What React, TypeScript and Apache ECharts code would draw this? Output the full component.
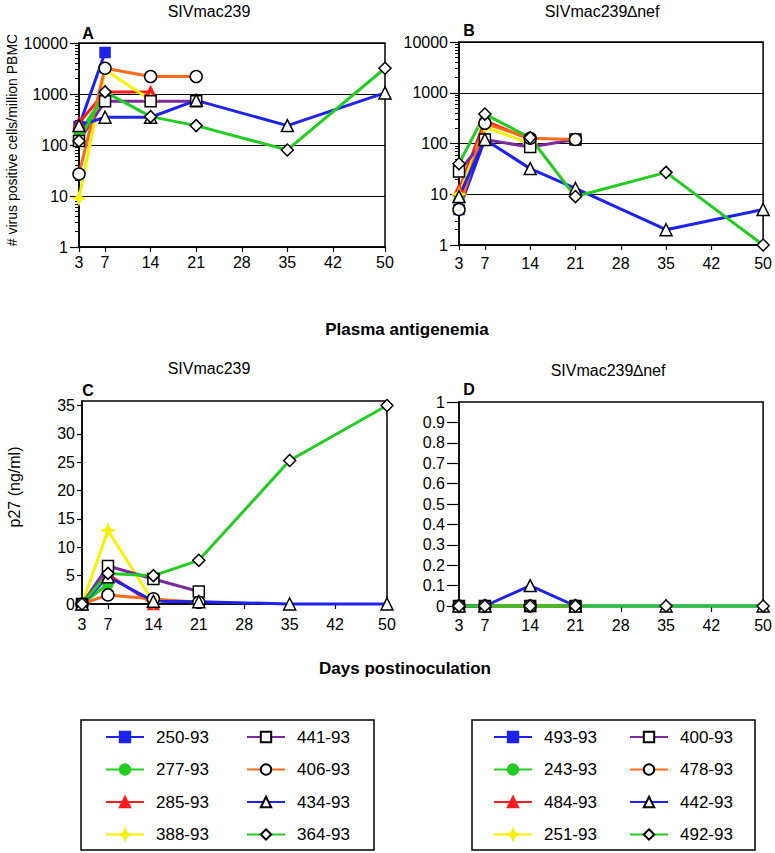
import React, { useEffect, useRef } from "react";
import * as echarts from "echarts";

// ---------- data ----------
const days = [3, 7, 14, 21, 35, 50];
const xTickDays = [3, 7, 14, 21, 28, 35, 42, 50];
const logMinorTicks = [
  2, 3, 4, 5, 6, 7, 8, 9, 20, 30, 40, 50, 60, 70, 80, 90, 200, 300, 400, 500, 600, 700, 800, 900,
  2000, 3000, 4000, 5000, 6000, 7000, 8000, 9000,
];
const p27TicksC = [0, 5, 10, 15, 20, 25, 30, 35];

const wtAnimals = ["250-93", "277-93", "285-93", "388-93", "441-93", "406-93", "434-93", "364-93"];
const nefAnimals = ["493-93", "243-93", "484-93", "251-93", "400-93", "478-93", "442-93", "492-93"];

// Panel A: virus positive cells / million PBMC, SIVmac239 (values per day in `days`)
const cellsWt250 = [230, 6500];
const cellsWt277 = [170, 1000];
const cellsWt285 = [270, 1100, 1100];
const cellsWt388 = [9, 3000, 760];
const cellsWt441 = [120, 720, 720, 720];
const cellsWt406 = [27, 3200, 2200, 2200];
const cellsWt434 = [240, 350, 350, 750, 240, 1050];
const cellsWt364 = [120, 1100, 360, 240, 80, 3200];

// Panel B: SIVmac239Δnef
const cellsNef493 = [5, 120];
const cellsNef243 = [8, 300];
const cellsNef484 = [12, 280, 120];
const cellsNef251 = [10, 210, 100];
const cellsNef400 = [28, 120, 85, 120];
const cellsNef478 = [5, 250, 127, 120];
const cellsNef442 = [9, 120, 32, 13, 2, 5];
const cellsNef492 = [40, 380, 130, 9, 27, 1];

// Panel C: p27 (ng/ml), SIVmac239
const p27Wt250 = [0, 5.5];
const p27Wt277 = [0, 3.5];
const p27Wt285 = [0, 5.2, 0];
const p27Wt388 = [0, 13, 0.3];
const p27Wt441 = [0, 6.7, 4.4, 2.2];
const p27Wt406 = [0, 1.6, 0.9, 0.3];
const p27Wt434 = [0, 4.8, 0.5, 0.4, 0, 0];
const p27Wt364 = [0, 5.4, 5.0, 7.7, 25.3, 35];

// Panel D: p27 (ng/ml), SIVmac239Δnef
const p27Nef493 = [0, 0, 0, 0];
const p27Nef243 = [0, 0, 0, 0];
const p27Nef484 = [0, 0, 0, 0];
const p27Nef251 = [0, 0, 0, 0];
const p27Nef400 = [0, 0, 0, 0];
const p27Nef478 = [0, 0, 0, 0];
const p27Nef442 = [0, 0, 0.1, 0, 0, 0];
const p27Nef492 = [0, 0, 0, 0, 0, 0];

const panelA = [cellsWt250, cellsWt277, cellsWt285, cellsWt388, cellsWt441, cellsWt406, cellsWt434, cellsWt364];
const panelB = [cellsNef493, cellsNef243, cellsNef484, cellsNef251, cellsNef400, cellsNef478, cellsNef442, cellsNef492];
const panelC = [p27Wt250, p27Wt277, p27Wt285, p27Wt388, p27Wt441, p27Wt406, p27Wt434, p27Wt364];
const panelD = [p27Nef493, p27Nef243, p27Nef484, p27Nef251, p27Nef400, p27Nef478, p27Nef442, p27Nef492];

// ---------- styles ----------
const FONT = "'Liberation Sans', Arial, Helvetica, sans-serif";
const BLUE = "#1e22ee";
const GREEN = "#22cc22";
const RED = "#ff1c1c";
const YELLOW = "#f7f000";
const PURPLE = "#7a2a9c";
const ORANGE = "#ff6a18";
const STAR = "path://M0,-10L2.8,-2.8L10,0L2.8,2.8L0,10L-2.8,2.8L-10,0L-2.8,-2.8Z";

const looks = [
  { line: BLUE, symbol: "rect", fill: BLUE, border: BLUE, size: 10 },
  { line: GREEN, symbol: "circle", fill: GREEN, border: GREEN, size: 10 },
  { line: RED, symbol: "triangle", fill: RED, border: RED, size: 11 },
  { line: YELLOW, symbol: STAR, fill: YELLOW, border: YELLOW, size: 12 },
  { line: PURPLE, symbol: "rect", fill: "#fff", border: "#000", size: 11 },
  { line: ORANGE, symbol: "circle", fill: "#fff", border: "#000", size: 12 },
  { line: BLUE, symbol: "triangle", fill: "#fff", border: "#000", size: 12 },
  { line: GREEN, symbol: "diamond", fill: "#fff", border: "#000", size: 12 },
];

const txt = (text: string, x: number, y: number, size: number, weight = "normal", rotation = 0) => ({
  type: "text",
  x,
  y,
  rotation,
  silent: true,
  style: {
    text,
    fill: "#000",
    font: `${weight} ${size}px ${FONT}`,
    align: "center",
    verticalAlign: "middle",
    textAlign: "center",
    textVerticalAlign: "middle",
  },
});

function buildSeries(names: string[], values: (number | null)[][], axisIdx: number, yIdx: number) {
  return names.map((name, i) => {
    const lk = looks[i];
    const data: number[][] = [];
    values[i].forEach((v, k) => {
      if (v != null) data.push([days[k], v]);
    });
    return {
      type: "line",
      name,
      xAxisIndex: axisIdx,
      yAxisIndex: yIdx,
      data,
      symbol: lk.symbol,
      symbolSize: lk.size,
      showSymbol: true,
      clip: false,
      lineStyle: { color: lk.line, width: 3 },
      itemStyle: { color: lk.fill, borderColor: lk.border, borderWidth: 1.5 },
      emphasis: { disabled: true },
    };
  });
}

const axisLineStyle = { lineStyle: { color: "#000", width: 1.5 } };

function xAxisFor(gridIndex: number, labelMargin: number, tickLen: number) {
  return {
    type: "value",
    gridIndex,
    min: 3,
    max: 50,
    axisLine: { show: true, ...axisLineStyle },
    axisTick: { show: true, customValues: xTickDays, length: tickLen, lineStyle: { color: "#000", width: 1.2 } },
    axisLabel: { customValues: xTickDays, fontSize: 16, fontFamily: FONT, color: "#000", margin: labelMargin },
    splitLine: { show: false },
  };
}

function logAxes(gridIndex: number) {
  return [
    {
      type: "log",
      logBase: 10,
      gridIndex,
      min: 1,
      max: 10000,
      position: "left",
      axisLine: { show: true, ...axisLineStyle },
      axisTick: { show: true, length: 9, lineStyle: { color: "#000", width: 1.2 } },
      axisLabel: {
        fontSize: 16,
        fontFamily: FONT,
        color: "#000",
        margin: 11,
        formatter: (v: number) => String(Math.round(v)),
      },
      splitLine: { show: true, lineStyle: { color: "#000", width: 1 } },
      minorTick: { show: false },
    },
    // second log axis on the same side carrying only the log-spaced minor ticks
    {
      type: "log",
      logBase: 10,
      gridIndex,
      min: 1,
      max: 10000,
      position: "left",
      axisLine: { show: false },
      axisTick: { show: true, customValues: logMinorTicks, length: 4, lineStyle: { color: "#000", width: 1 } },
      axisLabel: { show: false },
      splitLine: { show: false },
    },
  ];
}

export default function App() {
  const ref = useRef<HTMLDivElement>(null);

  useEffect(() => {
    document.body.style.margin = "0";
    if (!ref.current) return;
    const chart = echarts.init(ref.current, null, { renderer: "svg" });

    const gridBase = { show: true, borderColor: "#000", borderWidth: 1.5, backgroundColor: "transparent", containLabel: false };

    const legendBase = {
      orient: "vertical",
      itemGap: 15.5,
      itemWidth: 38,
      itemHeight: 13,
      padding: 0,
      selectedMode: false,
      textStyle: { fontSize: 17, fontFamily: FONT, color: "#000", padding: [0, 0, 0, 7] },
    };

    const option = {
      animation: false,
      backgroundColor: "#fff",
      grid: [
        { ...gridBase, left: 79, top: 43, width: 306, height: 204 },
        { ...gridBase, left: 459, top: 42, width: 306, height: 203 },
        { ...gridBase, left: 82, top: 401, width: 305, height: 203 },
        { ...gridBase, left: 459, top: 402, width: 306, height: 204 },
      ],
      xAxis: [xAxisFor(0, 7, 5), xAxisFor(1, 10, 5), xAxisFor(2, 12, 5), xAxisFor(3, 11, 6)],
      yAxis: [
        ...logAxes(0),
        ...logAxes(1),
        {
          type: "value",
          gridIndex: 2,
          min: 0,
          max: 35.8,
          axisLine: { show: true, ...axisLineStyle },
          axisTick: { show: true, customValues: p27TicksC, length: 5, lineStyle: { color: "#000", width: 1.2 } },
          axisLabel: { customValues: p27TicksC, fontSize: 16, fontFamily: FONT, color: "#000", margin: 7 },
          splitLine: { show: false },
        },
        {
          type: "value",
          gridIndex: 3,
          min: 0,
          max: 1,
          interval: 0.1,
          axisLine: { show: true, ...axisLineStyle },
          axisTick: { show: true, length: 12, lineStyle: { color: "#000", width: 1.2 } },
          axisLabel: { fontSize: 16, fontFamily: FONT, color: "#000", margin: 14 },
          splitLine: { show: false },
        },
      ],
      legend: [
        { ...legendBase, left: 105, top: 728.5, data: wtAnimals.slice(0, 4) },
        { ...legendBase, left: 246, top: 728.5, data: wtAnimals.slice(4) },
        { ...legendBase, left: 493, top: 728.5, data: nefAnimals.slice(0, 4) },
        { ...legendBase, left: 629, top: 728.5, data: nefAnimals.slice(4) },
      ],
      series: [
        ...buildSeries(wtAnimals, panelA, 0, 0),
        ...buildSeries(nefAnimals, panelB, 1, 2),
        ...buildSeries(wtAnimals, panelC, 2, 4),
        ...buildSeries(nefAnimals, panelD, 3, 5),
      ],
      graphic: [
        txt("SIVmac239", 209, 11, 16),
        txt("SIVmac239\u2206nef", 602, 11, 16),
        txt("A", 88, 33, 16, "bold"),
        txt("B", 469, 30, 16, "bold"),
        txt("# virus positive cells/million PBMC", 12, 140, 14, "normal", Math.PI / 2),
        txt("Plasma antigenemia", 407, 329, 17, "bold"),
        txt("SIVmac239", 209, 368, 16),
        txt("SIVmac239\u2206nef", 608, 370, 16),
        txt("C", 88, 390, 16, "bold"),
        txt("D", 469, 389, 16, "bold"),
        txt("p27 (ng/ml)", 14, 487, 16, "normal", Math.PI / 2),
        txt("Days postinoculation", 405, 668, 17, "bold"),
        {
          type: "rect",
          silent: true,
          shape: { x: 81, y: 720, width: 293, height: 130 },
          style: { fill: "none", stroke: "#000", lineWidth: 1.5 },
        },
        {
          type: "rect",
          silent: true,
          shape: { x: 472, y: 720, width: 283, height: 130 },
          style: { fill: "none", stroke: "#000", lineWidth: 1.5 },
        },
      ],
    };

    chart.setOption(option as any);
    return () => chart.dispose();
  }, []);

  return <div ref={ref} style={{ position: "absolute", left: 0, top: 0, width: 775, height: 853 }} />;
}
